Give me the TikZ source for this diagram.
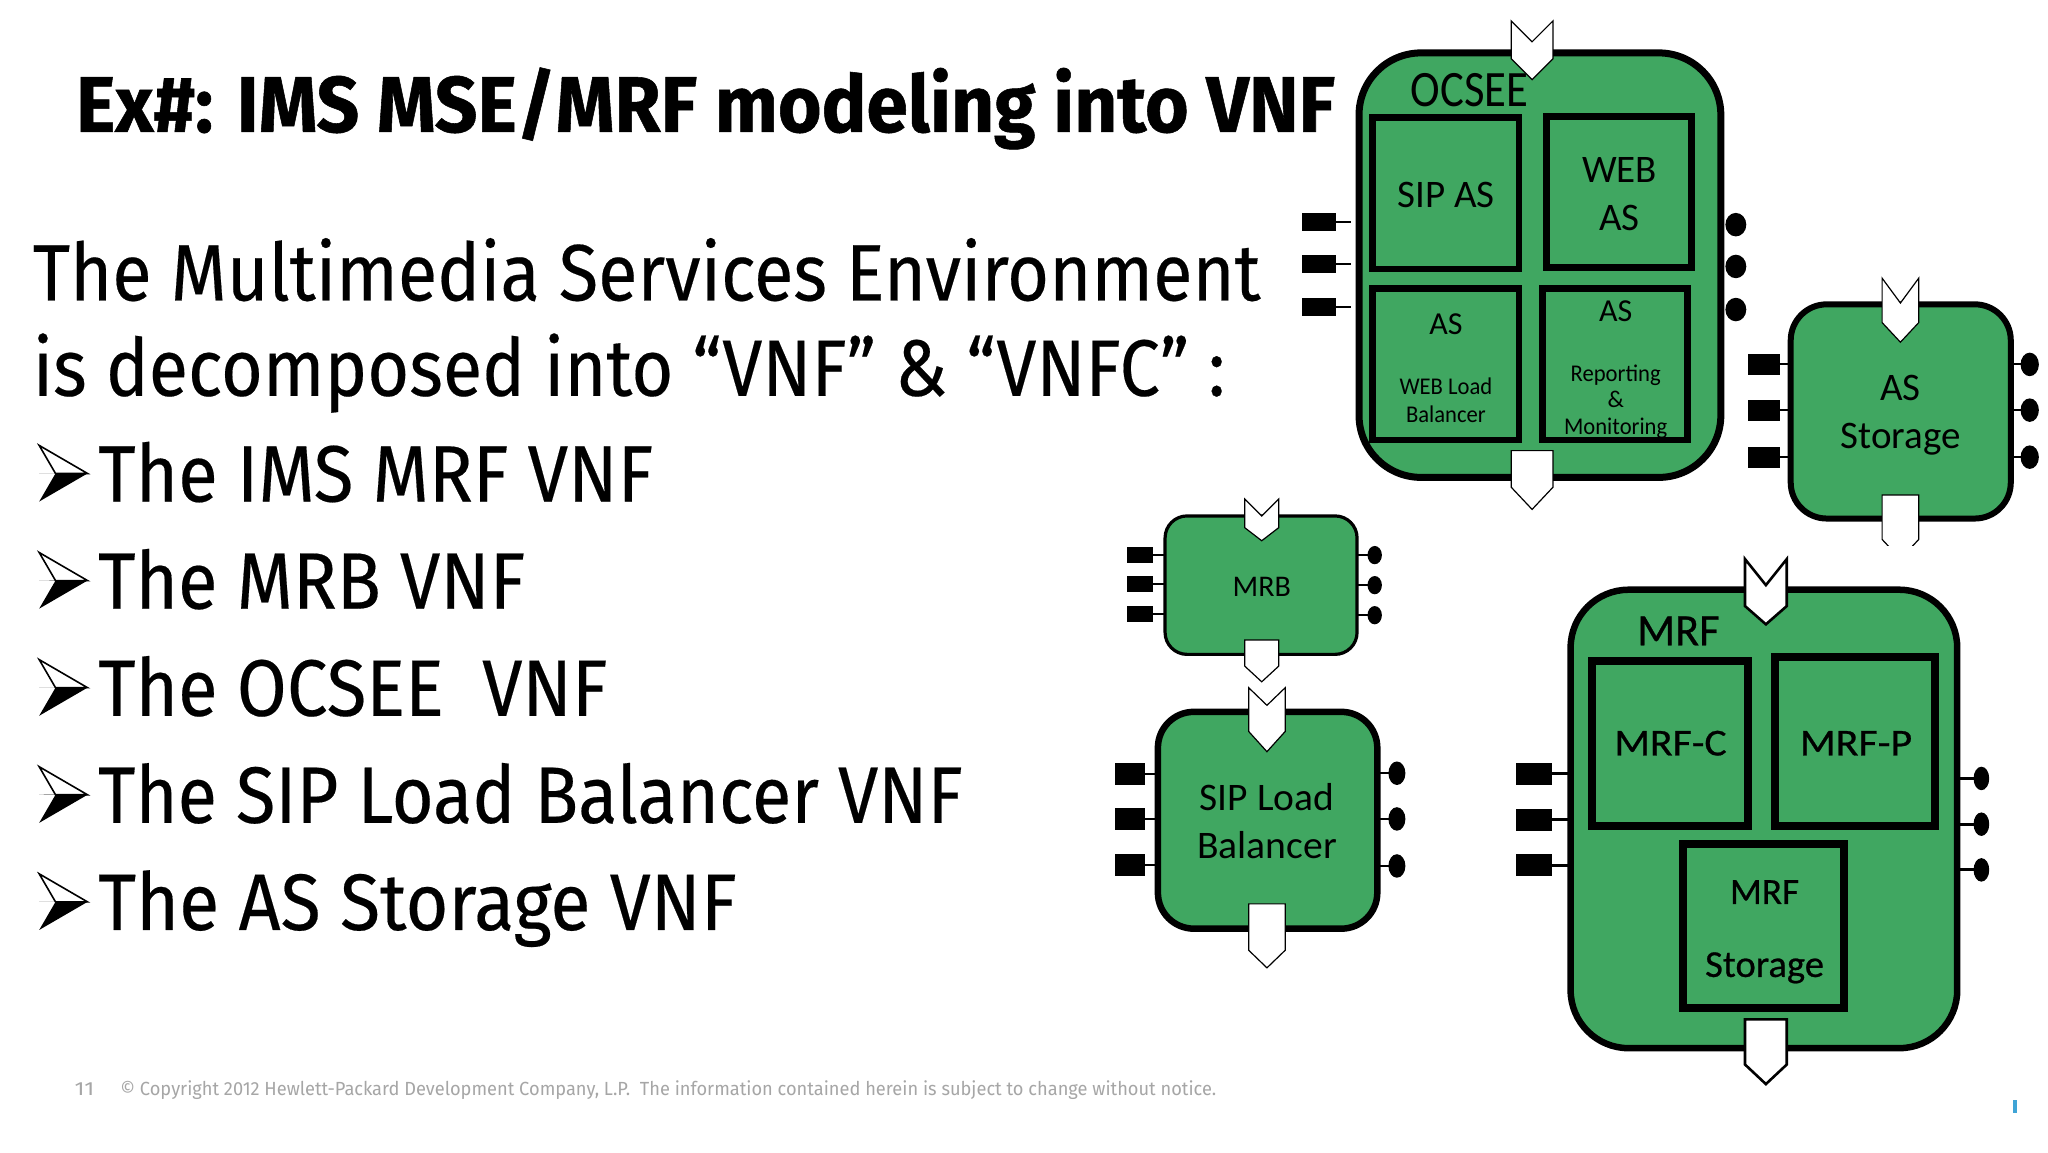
\documentclass[tikz,border=0pt]{standalone}
\usepackage{graphicx}
\usepackage{fontspec}
\setmainfont[FakeBold=0.25]{Fira Sans}
\newfontfamily\titlef[FakeBold=0.7]{Fira Sans Bold}
\newfontfamily\footf{Fira Sans}
\newfontfamily\boxfont{Carlito}
\newfontfamily\boxfontb[FakeBold=0.6]{Carlito}
\usetikzlibrary{shapes.geometric}
\definecolor{vnfgreen}{HTML}{40A761}
\definecolor{footgray}{HTML}{A6A6A6}
\definecolor{hpblue}{HTML}{3FA4D6}
\newsavebox{\fitsave}
\newcommand{\fitw}[2]{\sbox{\fitsave}{#2}\pgfmathsetmacro{\fitf}{#1*1.30612pt/\wd\fitsave}\scalebox{\fitf}[1]{\usebox{\fitsave}}}
\newcommand{\fsz}[1]{\fontsize{#1}{#1}\selectfont}
% rectangle node from stroke-centre corners
\newcommand{\rbox}[6]{\pgfmathsetlengthmacro{\bw}{(#4-#2)*1.30612pt}\pgfmathsetlengthmacro{\bh}{(#5-#3)*1.30612pt}%
 \node[#6,minimum width=\bw,minimum height=\bh] (#1) at ({(#2+#4)/2},{(#3+#5)/2}) {};}
% input chevron: cx halfw ytop notch shoulder tip
\newcommand{\chevin}[7]{\draw[chev] ({#2-#3},#4) coordinate (#1) -- (#2,#5) -- ({#2+#3},#4) -- ({#2+#3},#6) -- (#2,#7) -- ({#2-#3},#6) -- cycle;}
% output chevron: cx halfw ytop shoulder tip
\newcommand{\chevout}[6]{\draw[chev] ({#2-#3},#4) coordinate (#1) -- ({#2+#3},#4) -- ({#2+#3},#5) -- (#2,#6) -- ({#2-#3},#5) -- cycle;}
% left port / right port
\newcommand{\portl}[7]{\rbox{#1}{#2}{#3}{#4}{#5}{port}\draw[link,line width=#7] (#1.east) -- (#1.east -| #6.west);}
\newcommand{\portr}[7]{\draw[link,line width=#7] (#6.east |- {0,{(#3+#5)/2}}) -- ({(#2+#4)/2},{(#3+#5)/2});\rbox{#1}{#2}{#3}{#4}{#5}{dot}}
\newcommand{\arrowbullet}[2]{\fill[black] (#1,#2) -- ({#1+37},{#2-0.3}) -- ({#1+12.5},#2) -- cycle;
 \fill[black] ({#1},{#2+21.5}) -- ({#1+37},{#2}) -- ({#1+12.5},#2) -- cycle;
 \draw[line width=1.6pt,line join=miter,fill=white] ({#1},{#2-21.5}) -- ({#1+37},{#2}) -- ({#1+12.5},#2) -- cycle;}
\tikzset{
 vnf/.style={draw=black,fill=vnfgreen,inner sep=0pt,outer sep=0pt},
 inner/.style={draw=black,fill=vnfgreen,line width=6.6pt,inner sep=0pt,outer sep=0pt},
 port/.style={fill=black,inner sep=0pt,outer sep=0pt},
 dot/.style={ellipse,fill=black,inner sep=0pt,outer sep=0pt},
 chev/.style={draw=black,fill=white,line width=1.2pt,line join=miter},
 link/.style={draw=black},
 lbl/.style={inner sep=0pt,font=\boxfont,align=center,text=black},
 body/.style={anchor=base west,inner sep=0pt,text=black},
}
\begin{document}
\begin{tikzpicture}[x=1.30612pt,y=-1.30612pt]
\useasboundingbox (0,0) rectangle (1568,882);
\fill[white] (0,0) rectangle (1568,882);
% text
\node[body,font=\titlef\fsz{79}] (title) at (58,101) {\fitw{964}{Ex\#: IMS MSE/MRF modeling into VNF}};
\node[body,font=\fsz{80}] (l1) at (25,230) {\fitw{940}{The Multimedia Services Environment}};
\node[body,font=\fsz{80}] (l2) at (25,303) {\fitw{913}{is decomposed into “VNF” \& “VNFC” :}};
\node[body,font=\fsz{80}] (b1) at (75,384) {\fitw{425}{The IMS MRF VNF}};
\node[body,font=\fsz{80}] (b2) at (75,466) {\fitw{327}{The MRB VNF}};
\node[body,font=\fsz{80}] (b3) at (75,548) {\fitw{390}{The OCSEE\ \ VNF}};
\node[body,font=\fsz{80}] (b4) at (75,630) {\fitw{662}{The SIP Load Balancer VNF}};
\node[body,font=\fsz{80}] (b5) at (75,712) {\fitw{489}{The AS Storage VNF}};
\arrowbullet{30}{362.5}\arrowbullet{30}{444.5}\arrowbullet{30}{526.5}\arrowbullet{30}{608.5}\arrowbullet{30}{690.5}
\node[body,font=\footf\fsz{19},text=footgray] (pg) at (57,839) {\fitw{15}{11}};
\node[body,font=\footf\fsz{19},text=footgray] (foot) at (92,839) {\fitw{839}{© Copyright 2012 Hewlett-Packard Development Company, L.P.\ \ The information contained herein is subject to change without notice.}};
\fill[hpblue] (1541,842) rectangle (1544.5,852);
% OCSEE
\rbox{oc}{1040.5}{40.5}{1317.5}{365.5}{vnf,line width=7pt,rounded corners=62pt}
\rbox{ocsip}{1051}{90}{1163}{206}{inner}
\rbox{ocweb}{1184}{89}{1295}{205}{inner}
\rbox{ocas}{1051}{221}{1163}{337}{inner}
\rbox{ocrep}{1181}{221}{1292}{337}{inner}
\node[lbl,font=\boxfont\fsz{51}] (ocn) at (1125,69) {\fitw{90}{OCSEE}};
\node[lbl,font=\boxfont\fsz{39}] (t1) at (1107,149) {SIP AS};
\node[lbl,font=\boxfont\fsz{39}] (t2) at (1240,130) {WEB};
\node[lbl,font=\boxfont\fsz{39}] (t3) at (1240,167) {AS};
\node[lbl,font=\boxfont\fsz{32}] (t4) at (1107,248) {AS};
\node[lbl,font=\boxfont\fsz{24}] (t5) at (1107,296) {\fitw{71}{WEB Load}};
\node[lbl,font=\boxfont\fsz{24}] (t6) at (1107,317) {\fitw{61}{Balancer}};
\node[lbl,font=\boxfont\fsz{32}] (t7) at (1237,238) {AS};
\node[lbl,font=\boxfont\fsz{24}] (t8) at (1237,287) {\fitw{69}{Reporting}};
\node[lbl,font=\boxfont\fsz{24}] (t9) at (1237,306) {\&};
\node[lbl,font=\boxfont\fsz{24}] (t10) at (1237,328) {\fitw{79}{Monitoring}};
\chevin{ocin}{1173}{16}{16}{32}{45}{61}
\chevout{ocout}{1173}{16}{345}{373}{390}
\coordinate (ocend1) at (1034,170);
\coordinate (ocend2) at (1034,202);
\coordinate (ocend3) at (1034,235);
\rbox{oc1}{997}{163}{1023}{177}{port}
\rbox{oc2}{997}{195}{1023}{209}{port}
\rbox{oc3}{997}{228}{1023}{242}{port}
\draw[link,line width=2pt] (oc1.east) -- (ocend1);
\draw[link,line width=2pt] (oc2.east) -- (ocend2);
\draw[link,line width=2pt] (oc3.east) -- (ocend3);
\rbox{od1}{1321}{163}{1337}{181}{dot}
\rbox{od2}{1321}{195}{1337}{213}{dot}
\rbox{od3}{1321}{228}{1337}{246}{dot}
% AS Storage
\rbox{as}{1371}{233}{1539.5}{397}{vnf,line width=6pt,rounded corners=36pt}
\node[lbl,font=\boxfont\fsz{39}] (as1) at (1455,297) {AS};
\node[lbl,font=\boxfont\fsz{39}] (as2) at (1455,336) {Storage};
\chevin{asin}{1455}{14}{213}{232}{247}{262}
\begin{scope}
\clip (1430,370) rectangle (1480,418);
\chevout{asout}{1455}{14}{379}{413}{428}
\end{scope}
\portl{as3}{1338}{271}{1362.5}{287}{as}{2pt}
\portl{as4}{1338}{306}{1362.5}{322}{as}{2pt}
\portl{as5}{1338}{342}{1362.5}{358}{as}{2pt}
\portr{as6}{1547}{270}{1561}{288}{as}{2pt}
\portr{as7}{1547}{305}{1561}{323}{as}{2pt}
\portr{as8}{1547}{341}{1561}{359}{as}{2pt}
% MRB
\rbox{mrb}{892}{395}{1039}{501}{vnf,line width=3.2pt,rounded corners=22pt}
\node[lbl,font=\boxfont\fsz{30}] (m1) at (966,449) {MRB};
\chevin{mrbin}{966}{13}{382}{395}{404}{414}
\chevout{mrbout}{966}{13}{490}{510}{522}
\portl{m2}{863}{419}{883}{431}{mrb}{1.6pt}
\portl{m3}{863}{441}{883}{453}{mrb}{1.6pt}
\portl{m4}{863}{464}{883}{476}{mrb}{1.6pt}
\portr{m5}{1047}{418}{1058}{432}{mrb}{1.6pt}
\portr{m6}{1047}{441}{1058}{455}{mrb}{1.6pt}
\portr{m7}{1047}{464}{1058}{478}{mrb}{1.6pt}
% SIP LB
\rbox{sip}{886.5}{545}{1054.5}{711}{vnf,line width=6.5pt,rounded corners=36pt}
\node[lbl,font=\boxfont\fsz{39}] (s1) at (970,610) {\fitw{103}{SIP Load}};
\node[lbl,font=\boxfont\fsz{39}] (s2) at (970,647) {\fitw{107}{Balancer}};
\chevin{sipin}{970}{14}{526.5}{540}{560}{575.5}
\chevout{sipout}{970}{14}{692}{727.5}{741}
\portl{s3}{854}{584}{877}{601}{sip}{2pt}
\portl{s4}{854}{618.5}{877}{635.5}{sip}{2pt}
\portl{s5}{854}{654}{877}{671}{sip}{2pt}
\portr{s6}{1063}{583}{1076}{601}{sip}{2pt}
\portr{s7}{1063}{618}{1076}{636}{sip}{2pt}
\portr{s8}{1063}{654}{1076}{672}{sip}{2pt}
% MRF
\rbox{mrf}{1202.5}{451.5}{1498.5}{802.5}{vnf,line width=6.5pt,rounded corners=58pt}
\rbox{mc}{1219}{506}{1338.5}{632.5}{inner,line width=8pt}
\rbox{mp}{1359}{503}{1481.5}{632.5}{inner,line width=8pt}
\rbox{ms}{1288.5}{646}{1412}{772}{inner,line width=8pt}
\node[lbl,font=\boxfontb\fsz{45}] (f1) at (1285,483) {\fitw{63}{MRF}};
\node[lbl,font=\boxfontb\fsz{38}] (f2) at (1279,569) {\fitw{86}{MRF-C}};
\node[lbl,font=\boxfontb\fsz{38}] (f3) at (1421,569) {\fitw{86}{MRF-P}};
\node[lbl,font=\boxfontb\fsz{37}] (f4) at (1351,683) {\fitw{53}{MRF}};
\node[lbl,font=\boxfontb\fsz{38}] (f5) at (1351,741) {\fitw{91}{Storage}};
\begin{scope}[chev/.append style={line width=2.6pt}]
\chevin{mrfin}{1352}{16}{428}{448}{464}{478}
\chevout{mrfout}{1352}{16}{780.5}{815}{830}
\end{scope}
\portl{f6}{1161}{584}{1188}{601}{mrf}{3pt}
\portl{f7}{1161}{619}{1188}{636}{mrf}{3pt}
\portl{f8}{1161}{654}{1188}{671}{mrf}{3pt}
\portr{f9}{1511}{587}{1523}{605}{mrf}{3pt}
\portr{f10}{1511}{622}{1523}{640}{mrf}{3pt}
\portr{f11}{1511}{657}{1523}{675}{mrf}{3pt}
\end{tikzpicture}
\end{document}
